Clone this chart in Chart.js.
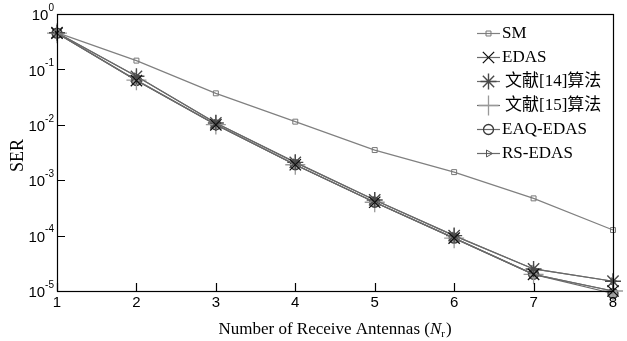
<!DOCTYPE html>
<html>
<head>
<meta charset="utf-8">
<script src="https://cdn.jsdelivr.net/npm/chart.js@4.4.1/dist/chart.umd.min.js"></script>
<style>
  html, body { margin: 0; padding: 0; background: #fff; }
  #wrap { width: 627px; height: 341px; position: relative; }
</style>
</head>
<body>
<div id="wrap"><canvas id="c" width="627" height="341"></canvas></div>
<script>
// ---- data ----
const antennas = [1, 2, 3, 4, 5, 6, 7, 8];
const seriesNames = ['SM', 'EDAS', '文献[14]算法', '文献[15]算法', 'EAQ-EDAS', 'RS-EDAS'];
const serSM     = [0.46, 0.144, 0.037, 0.0114, 0.0035, 0.0014, 4.7e-4, 1.26e-4];
const serEDAS   = [0.45, 0.063, 0.0100, 0.0019, 4.0e-4, 9.0e-5, 2.0e-5, 1.0e-5];
const serRef14  = [0.46, 0.075, 0.0108, 0.0021, 4.4e-4, 1.0e-4, 2.5e-5, 1.5e-5];
const serRef15  = [0.45, 0.064, 0.0101, 0.0019, 4.0e-4, 9.0e-5, 2.0e-5, 1.0e-5];
const serEAQ    = [0.45, 0.063, 0.0100, 0.0019, 4.0e-4, 9.0e-5, 2.0e-5, 9.0e-6];
const serRS     = [0.46, 0.075, 0.0108, 0.0021, 4.4e-4, 1.0e-4, 2.5e-5, 1.5e-5];
const yExponents = [0, -1, -2, -3, -4, -5];
const xTickLabels = ['1', '2', '3', '4', '5', '6', '7', '8'];

const seriesValues = [serSM, serEDAS, serRef14, serRef15, serEAQ, serRS];
const styles = [
  { line: '#808080', mk: '#777', style: 'rect', r: 3.5, bw: 1, rot: 0 },
  { line: '#6a6a6a', mk: '#111', style: 'crossRot', r: 8, bw: 1.3, rot: 0 },
  { line: '#6a6a6a', mk: '#4a4a4a', style: 'star', r: 8, bw: 1.4, rot: 0 },
  { line: '#6a6a6a', mk: '#999', style: 'cross', r: 10, bw: 1.3, rot: 0 },
  { line: '#6a6a6a', mk: '#3a3a3a', style: 'circle', r: 5, bw: 1.3, rot: 0 },
  { line: '#6a6a6a', mk: '#555', style: 'triangle', r: 4, bw: 1, rot: 90 }
];

const datasets = seriesNames.map((name, i) => ({
  label: name,
  data: antennas.map((x, j) => ({ x: x, y: seriesValues[i][j] })),
  borderColor: styles[i].line,
  borderWidth: 1.2,
  pointStyle: styles[i].style,
  pointRadius: styles[i].r,
  pointRotation: styles[i].rot,
  pointBorderColor: styles[i].mk,
  pointBackgroundColor: i === 4 ? 'rgba(90,90,90,0.55)' : 'rgba(0,0,0,0)',
  pointBorderWidth: styles[i].bw,
  fill: false,
  tension: 0,
  clip: false
}));

function drawMarker(ctx, st, x, y) {
  ctx.save();
  ctx.strokeStyle = st.mk;
  ctx.lineWidth = st.bw;
  if (Chart.helpers && Chart.helpers.drawPoint) {
    ctx.fillStyle = 'rgba(0,0,0,0)';
    Chart.helpers.drawPoint(ctx, { pointStyle: st.style, radius: st.r, rotation: st.rot, borderWidth: st.bw }, x, y);
  }
  ctx.restore();
}

const decor = {
  id: 'decor',
  afterDraw(chart) {
    const ctx = chart.ctx;
    const a = chart.chartArea;
    const xs = chart.scales.x, ys = chart.scales.y;
    ctx.save();
    // frame
    ctx.strokeStyle = '#000';
    ctx.lineWidth = 1.2;
    ctx.strokeRect(Math.round(a.left) + 0.5, Math.round(a.top) + 0.5, Math.round(a.right - a.left), Math.round(a.bottom - a.top));
    // inward ticks
    ctx.beginPath();
    antennas.forEach(v => {
      const px = Math.round(xs.getPixelForValue(v)) + 0.5;
      ctx.moveTo(px, a.bottom); ctx.lineTo(px, a.bottom - 8);
    });
    yExponents.forEach(e => {
      const py = Math.round(ys.getPixelForValue(Math.pow(10, e))) + 0.5;
      ctx.moveTo(a.left, py); ctx.lineTo(a.left + 8, py);
    });
    ctx.stroke();
    // x tick labels
    ctx.fillStyle = '#000';
    ctx.font = '15px "Liberation Sans", Arial, sans-serif';
    ctx.textAlign = 'center';
    ctx.textBaseline = 'middle';
    antennas.forEach((v, i) => {
      ctx.fillText(xTickLabels[i], xs.getPixelForValue(v), a.bottom + 12);
    });
    // y tick labels 10^e
    yExponents.forEach(e => {
      const py = ys.getPixelForValue(Math.pow(10, e));
      const sup = String(e);
      ctx.font = '10px "Liberation Sans", Arial, sans-serif';
      const sw = ctx.measureText(sup).width;
      ctx.font = '15px "Liberation Sans", Arial, sans-serif';
      const bw = ctx.measureText('10').width;
      const right = a.left - 3;
      ctx.textAlign = 'left';
      ctx.textBaseline = 'middle';
      ctx.fillText('10', right - sw - bw, py + 2);
      ctx.font = '10px "Liberation Sans", Arial, sans-serif';
      ctx.fillText(sup, right - sw, py - 6);
    });
    // y title
    ctx.save();
    ctx.translate(18, (a.top + a.bottom) / 2 + 3);
    ctx.rotate(-Math.PI / 2);
    ctx.font = '18px "Liberation Serif", "Times New Roman", serif';
    ctx.textAlign = 'center';
    ctx.textBaseline = 'middle';
    ctx.fillText('SER', 0, 0);
    ctx.restore();
    // x title with italic N and subscript r
    const t1 = 'Number of Receive Antennas (';
    const tN = 'N';
    const tr = 'r';
    const t2 = ')';
    const fMain = '17px "Liberation Serif", "Times New Roman", serif';
    const fIt = 'italic 17px "Liberation Serif", "Times New Roman", serif';
    const fSub = '11px "Liberation Serif", "Times New Roman", serif';
    ctx.font = fMain; const w1 = ctx.measureText(t1).width; const w2 = ctx.measureText(t2).width;
    ctx.font = fIt; const wN = ctx.measureText(tN).width;
    ctx.font = fSub; const wr = ctx.measureText(tr).width;
    const total = w1 + wN + wr + w2 + 1;
    let x0 = (a.left + a.right) / 2 - total / 2;
    const yb = 334;
    ctx.textAlign = 'left';
    ctx.textBaseline = 'alphabetic';
    ctx.font = fMain; ctx.fillText(t1, x0, yb); x0 += w1;
    ctx.font = fIt; ctx.fillText(tN, x0, yb); x0 += wN;
    ctx.font = fSub; ctx.fillText(tr, x0, yb + 3); x0 += wr + 1;
    ctx.font = fMain; ctx.fillText(t2, x0, yb);
    // legend
    const legY = [33, 57, 81, 105, 129, 153];
    seriesNames.forEach((name, i) => {
      const y = legY[i];
      ctx.strokeStyle = styles[i].line;
      ctx.lineWidth = 1.2;
      ctx.beginPath();
      ctx.moveTo(477, y + 0.5); ctx.lineTo(500, y + 0.5);
      ctx.stroke();
      drawMarker(ctx, styles[i], 488.5, y + 0.5);
      ctx.fillStyle = '#000';
      ctx.font = '17px "Liberation Serif", "Times New Roman", "Noto Sans CJK SC", serif';
      ctx.textAlign = 'left';
      ctx.textBaseline = 'middle';
      ctx.fillText(name, i === 2 || i === 3 ? 505 : 502, y + 1);
    });
    ctx.restore();
  }
};

new Chart(document.getElementById('c'), {
  type: 'line',
  data: { datasets: datasets },
  options: {
    responsive: false,
    animation: false,
    devicePixelRatio: 1,
    layout: { padding: { left: 57, right: 14, top: 14, bottom: 50 } },
    plugins: { legend: { display: false }, tooltip: { enabled: false } },
    scales: {
      x: {
        type: 'linear', min: 1, max: 8,
        grid: { display: false, drawTicks: false },
        border: { display: false },
        ticks: { display: false }
      },
      y: {
        type: 'logarithmic', min: 1e-5, max: 1,
        grid: { display: false, drawTicks: false },
        border: { display: false },
        ticks: { display: false }
      }
    }
  },
  plugins: [decor]
});
</script>
</body>
</html>
